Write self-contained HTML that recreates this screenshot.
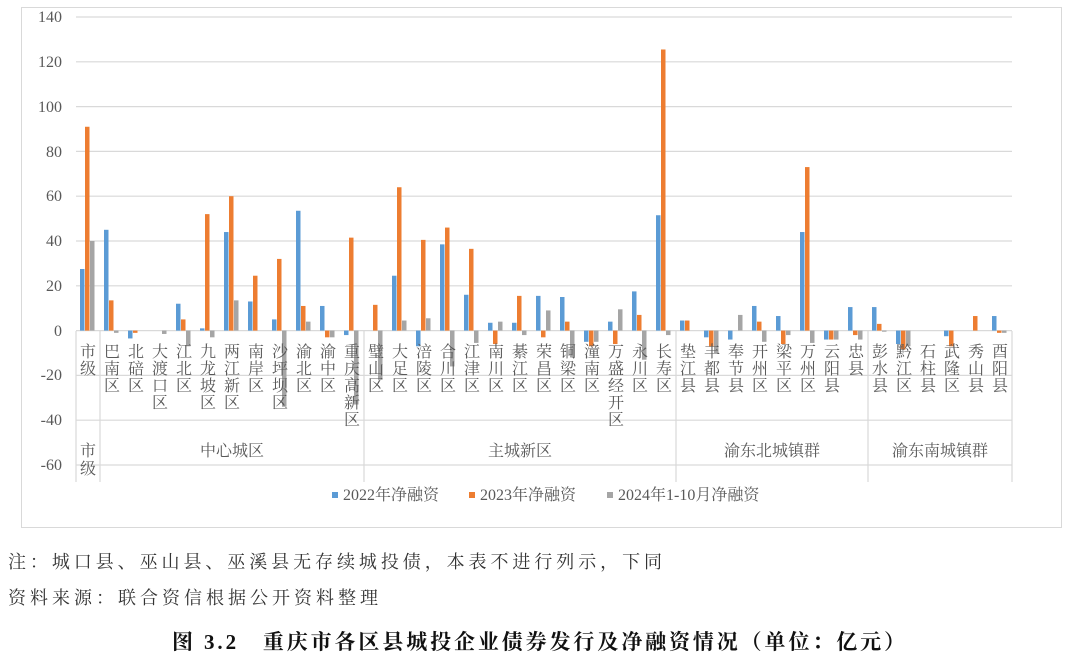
<!DOCTYPE html>
<html><head><meta charset="utf-8">
<style>
body{margin:0;background:#fff;width:1080px;height:659px;overflow:hidden;}
svg{display:block;font-family:"Liberation Serif","Noto Serif CJK SC",serif;}
.t{fill:#595959;font-size:16px;}
.n{fill:#333;font-size:18px;}
</style></head><body>
<svg width="1080" height="659" xmlns="http://www.w3.org/2000/svg">
<rect x="21.5" y="7.5" width="1040" height="520" fill="none" stroke="#d9d9d9"/>
<g stroke="#d9d9d9" stroke-width="1.2">
<line x1="76" x2="1012" y1="17" y2="17"/><line x1="76" x2="1012" y1="61.8" y2="61.8"/>
<line x1="76" x2="1012" y1="106.6" y2="106.6"/><line x1="76" x2="1012" y1="151.4" y2="151.4"/>
<line x1="76" x2="1012" y1="196.2" y2="196.2"/><line x1="76" x2="1012" y1="241" y2="241"/>
<line x1="76" x2="1012" y1="285.8" y2="285.8"/><line x1="76" x2="1012" y1="330.6" y2="330.6"/>
<line x1="76" x2="1012" y1="375.4" y2="375.4"/><line x1="76" x2="1012" y1="420.2" y2="420.2"/>
<line x1="76" x2="1012" y1="465" y2="465"/>
<line x1="76" x2="76" y1="331" y2="482"/><line x1="100" x2="100" y1="331" y2="482"/>
<line x1="364" x2="364" y1="331" y2="482"/><line x1="676" x2="676" y1="331" y2="482"/>
<line x1="868" x2="868" y1="331" y2="482"/><line x1="1012" x2="1012" y1="331" y2="482"/>
</g>
<g class="t" text-anchor="end" font-size="15">
<text x="62" y="22">140</text><text x="62" y="67">120</text><text x="62" y="112">100</text>
<text x="62" y="157">80</text><text x="62" y="201">60</text><text x="62" y="246">40</text>
<text x="62" y="291">20</text><text x="62" y="336">0</text><text x="62" y="380">-20</text>
<text x="62" y="425">-40</text><text x="62" y="470">-60</text>
</g>
<g id="bars"></g>
<g class="t" text-anchor="middle" id="labels">
<text x="88" y="357">市<tspan x="88" dy="17">级</tspan></text>
<text x="112" y="357">巴<tspan x="112" dy="17">南</tspan><tspan x="112" dy="17">区</tspan></text>
<text x="136" y="357">北<tspan x="136" dy="17">碚</tspan><tspan x="136" dy="17">区</tspan></text>
<text x="160" y="357">大<tspan x="160" dy="17">渡</tspan><tspan x="160" dy="17">口</tspan><tspan x="160" dy="17">区</tspan></text>
<text x="184" y="357">江<tspan x="184" dy="17">北</tspan><tspan x="184" dy="17">区</tspan></text>
<text x="208" y="357">九<tspan x="208" dy="17">龙</tspan><tspan x="208" dy="17">坡</tspan><tspan x="208" dy="17">区</tspan></text>
<text x="232" y="357">两<tspan x="232" dy="17">江</tspan><tspan x="232" dy="17">新</tspan><tspan x="232" dy="17">区</tspan></text>
<text x="256" y="357">南<tspan x="256" dy="17">岸</tspan><tspan x="256" dy="17">区</tspan></text>
<text x="280" y="357">沙<tspan x="280" dy="17">坪</tspan><tspan x="280" dy="17">坝</tspan><tspan x="280" dy="17">区</tspan></text>
<text x="304" y="357">渝<tspan x="304" dy="17">北</tspan><tspan x="304" dy="17">区</tspan></text>
<text x="328" y="357">渝<tspan x="328" dy="17">中</tspan><tspan x="328" dy="17">区</tspan></text>
<text x="352" y="357">重<tspan x="352" dy="17">庆</tspan><tspan x="352" dy="17">高</tspan><tspan x="352" dy="17">新</tspan><tspan x="352" dy="17">区</tspan></text>
<text x="376" y="357">璧<tspan x="376" dy="17">山</tspan><tspan x="376" dy="17">区</tspan></text>
<text x="400" y="357">大<tspan x="400" dy="17">足</tspan><tspan x="400" dy="17">区</tspan></text>
<text x="424" y="357">涪<tspan x="424" dy="17">陵</tspan><tspan x="424" dy="17">区</tspan></text>
<text x="448" y="357">合<tspan x="448" dy="17">川</tspan><tspan x="448" dy="17">区</tspan></text>
<text x="472" y="357">江<tspan x="472" dy="17">津</tspan><tspan x="472" dy="17">区</tspan></text>
<text x="496" y="357">南<tspan x="496" dy="17">川</tspan><tspan x="496" dy="17">区</tspan></text>
<text x="520" y="357">綦<tspan x="520" dy="17">江</tspan><tspan x="520" dy="17">区</tspan></text>
<text x="544" y="357">荣<tspan x="544" dy="17">昌</tspan><tspan x="544" dy="17">区</tspan></text>
<text x="568" y="357">铜<tspan x="568" dy="17">梁</tspan><tspan x="568" dy="17">区</tspan></text>
<text x="592" y="357">潼<tspan x="592" dy="17">南</tspan><tspan x="592" dy="17">区</tspan></text>
<text x="616" y="357">万<tspan x="616" dy="17">盛</tspan><tspan x="616" dy="17">经</tspan><tspan x="616" dy="17">开</tspan><tspan x="616" dy="17">区</tspan></text>
<text x="640" y="357">永<tspan x="640" dy="17">川</tspan><tspan x="640" dy="17">区</tspan></text>
<text x="664" y="357">长<tspan x="664" dy="17">寿</tspan><tspan x="664" dy="17">区</tspan></text>
<text x="688" y="357">垫<tspan x="688" dy="17">江</tspan><tspan x="688" dy="17">县</tspan></text>
<text x="712" y="357">丰<tspan x="712" dy="17">都</tspan><tspan x="712" dy="17">县</tspan></text>
<text x="736" y="357">奉<tspan x="736" dy="17">节</tspan><tspan x="736" dy="17">县</tspan></text>
<text x="760" y="357">开<tspan x="760" dy="17">州</tspan><tspan x="760" dy="17">区</tspan></text>
<text x="784" y="357">梁<tspan x="784" dy="17">平</tspan><tspan x="784" dy="17">区</tspan></text>
<text x="808" y="357">万<tspan x="808" dy="17">州</tspan><tspan x="808" dy="17">区</tspan></text>
<text x="832" y="357">云<tspan x="832" dy="17">阳</tspan><tspan x="832" dy="17">县</tspan></text>
<text x="856" y="357">忠<tspan x="856" dy="17">县</tspan></text>
<text x="880" y="357">彭<tspan x="880" dy="17">水</tspan><tspan x="880" dy="17">县</tspan></text>
<text x="904" y="357">黔<tspan x="904" dy="17">江</tspan><tspan x="904" dy="17">区</tspan></text>
<text x="928" y="357">石<tspan x="928" dy="17">柱</tspan><tspan x="928" dy="17">县</tspan></text>
<text x="952" y="357">武<tspan x="952" dy="17">隆</tspan><tspan x="952" dy="17">区</tspan></text>
<text x="976" y="357">秀<tspan x="976" dy="17">山</tspan><tspan x="976" dy="17">县</tspan></text>
<text x="1000" y="357">酉<tspan x="1000" dy="17">阳</tspan><tspan x="1000" dy="17">县</tspan></text>
<text x="88" y="456">市<tspan x="88" dy="18">级</tspan></text>
<text x="232" y="456">中心城区</text>
<text x="520" y="456">主城新区</text>
<text x="772" y="456">渝东北城镇群</text>
<text x="940" y="456">渝东南城镇群</text>
</g>
<g font-size="15" class="t">
<rect x="332" y="492" width="6" height="6" fill="#5b9bd5"/><text x="343" y="500">2022年净融资</text>
<rect x="469" y="492" width="6" height="6" fill="#ed7d31"/><text x="480" y="500">2023年净融资</text>
<rect x="607" y="492" width="6" height="6" fill="#a5a5a5"/><text x="618" y="500">2024年1-10月净融资</text>
</g>
<text class="n" x="8" y="568" textLength="654" lengthAdjust="spacing">注：城口县、巫山县、巫溪县无存续城投债，本表不进行列示，下同</text>
<text class="n" x="8" y="604" textLength="370" lengthAdjust="spacing">资料来源：联合资信根据公开资料整理</text>
<text x="172" y="649" font-size="21" font-weight="bold" fill="#111" textLength="733" lengthAdjust="spacing">图 3.2　重庆市各区县城投企业债券发行及净融资情况（单位：亿元）</text>
</svg>
<script>
var d=[[27.5,91,40],[45,13.5,-1],[-3.5,-1,0],[0,0,-1.5],[12,5,-7],[1,52,-3],[44,60,13.5],[13,24.5,0],[5,32,-34],[53.5,11,4],[11,-3,-3],[-2,41.5,-33],
[0,11.5,-22],[24.5,64,4.5],[-7,40.5,5.5],[38.5,46,-16],[16,36.5,-5.5],[3.5,-6,4],[3.5,15.5,-2],[15.5,-3,9],[15,4,-12],[-5,-7,-5],[4,-6,9.5],[17.5,7,-13],[51.5,125.5,-2],
[4.5,4.5,0],[-3,-7,-10],[-4,0,7],[11,4,-5],[6.5,-6,-2],[44,73,-5.5],[-4,-4,-4],[10.5,-2,-4],
[10.5,3,-0.5],[-6,-8.5,-7],[0,0,0],[-2.5,-7,0],[0,6.5,0],[6.5,-1,-1]];
var c=["#5b9bd5","#ed7d31","#a5a5a5"],s="",z=330.6,k=2.24;
d.forEach(function(r,i){r.forEach(function(v,j){if(!v)return;var h=Math.abs(v)*k,y=v>0?z-h:z;
s+='<rect x="'+(76+24*i+4+5*j)+'" y="'+y+'" width="4.5" height="'+h+'" fill="'+c[j]+'"/>';});});
document.getElementById("bars").innerHTML=s;
</script>
</body></html>
